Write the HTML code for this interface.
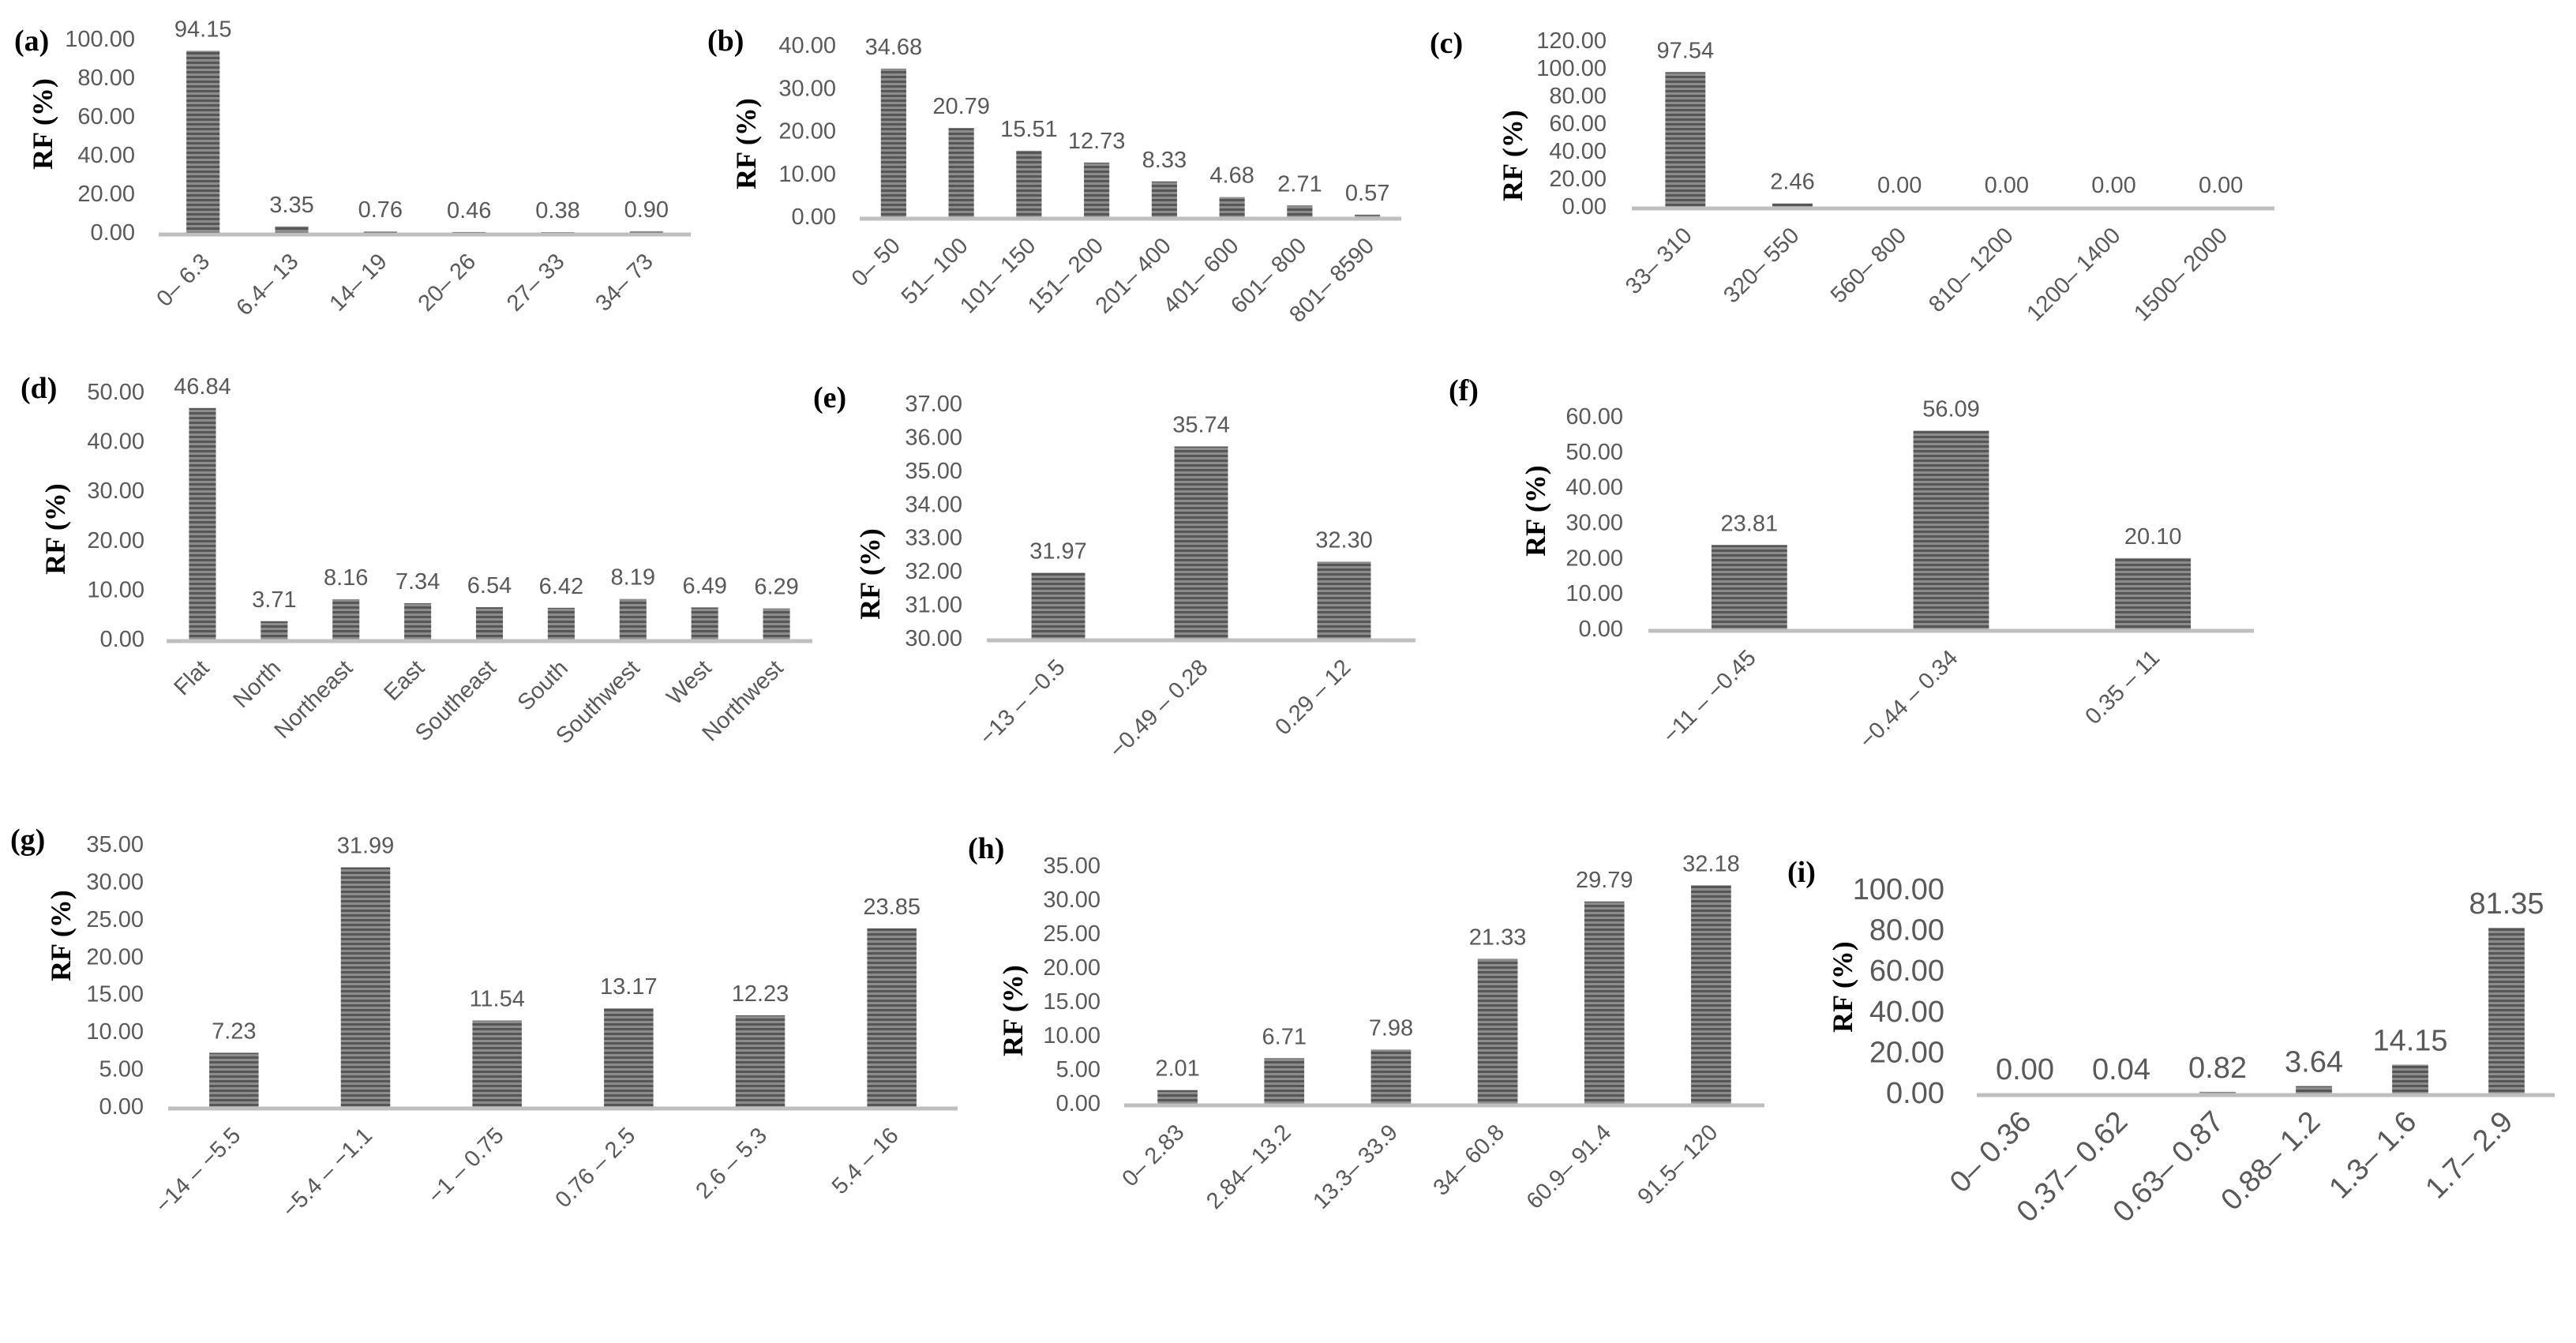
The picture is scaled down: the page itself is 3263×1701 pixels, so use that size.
<!DOCTYPE html>
<html><head><meta charset="utf-8"><style>
html,body{margin:0;padding:0;background:#fff;}
svg{display:block;}
.tk{font-family:"Liberation Sans",sans-serif;fill:#595959;}
.pl{font-family:"Liberation Serif",serif;font-weight:bold;fill:#000;}
</style></head><body>
<svg id="fig" width="3263" height="1701" viewBox="0 0 3263 1701" xmlns="http://www.w3.org/2000/svg">
<defs>
<pattern id="stripe" patternUnits="userSpaceOnUse" width="10" height="6">
<rect width="10" height="6" fill="#8c8c8c"/><rect width="10" height="3" fill="#565656"/>
</pattern>
</defs>
</svg>
<script>
// ---- data ----
const catsA=["0– 6.3","6.4– 13","14– 19","20– 26","27– 33","34– 73"];
const valsA=[94.15,3.35,0.76,0.46,0.38,0.90];
const ticksA=[0,20,40,60,80,100];
const catsB=["0– 50","51– 100","101– 150","151– 200","201– 400","401– 600","601– 800","801– 8590"];
const valsB=[34.68,20.79,15.51,12.73,8.33,4.68,2.71,0.57];
const ticksB=[0,10,20,30,40];
const catsC=["33– 310","320– 550","560– 800","810– 1200","1200– 1400","1500– 2000"];
const valsC=[97.54,2.46,0.00,0.00,0.00,0.00];
const ticksC=[0,20,40,60,80,100,120];
const catsD=["Flat","North","Northeast","East","Southeast","South","Southwest","West","Northwest"];
const valsD=[46.84,3.71,8.16,7.34,6.54,6.42,8.19,6.49,6.29];
const ticksD=[0,10,20,30,40,50];
const catsE=["−13 – −0.5","−0.49 – 0.28","0.29 – 12"];
const valsE=[31.97,35.74,32.30];
const ticksE=[30,31,32,33,34,35,36,37];
const catsF=["−11 – −0.45","−0.44 – 0.34","0.35 – 11"];
const valsF=[23.81,56.09,20.10];
const ticksF=[0,10,20,30,40,50,60];
const catsG=["−14 – −5.5","−5.4 – −1.1","−1 – 0.75","0.76 – 2.5","2.6 – 5.3","5.4 – 16"];
const valsG=[7.23,31.99,11.54,13.17,12.23,23.85];
const ticksG=[0,5,10,15,20,25,30,35];
const catsH=["0– 2.83","2.84– 13.2","13.3– 33.9","34– 60.8","60.9– 91.4","91.5– 120"];
const valsH=[2.01,6.71,7.98,21.33,29.79,32.18];
const ticksH=[0,5,10,15,20,25,30,35];
const catsI=["0– 0.36","0.37– 0.62","0.63– 0.87","0.88– 1.2","1.3– 1.6","1.7– 2.9"];
const valsI=[0.00,0.04,0.82,3.64,14.15,81.35];
const ticksI=[0,20,40,60,80,100];

// ---- layout ----
const NS="http://www.w3.org/2000/svg";
const svg=document.getElementById('fig');
function mk(tag,attrs,parent){const e=document.createElementNS(NS,tag);for(const k in attrs)e.setAttribute(k,attrs[k]);(parent||svg).appendChild(e);return e;}

const panels=[
 {id:'a',cats:catsA,vals:valsA,ticks:ticksA,x0:201,x1:875,yB:295,yT:50,tr:171,lx:18,ly:64,rx:54,ry:157,fs:29},
 {id:'b',cats:catsB,vals:valsB,ticks:ticksB,x0:1089,x1:1775,yB:275,yT:58,tr:1059,lx:896,ly:64,rx:945,ry:182,fs:29},
 {id:'c',cats:catsC,vals:valsC,ticks:ticksC,x0:2067,x1:2881,yB:262,yT:52,tr:2035,lx:1811,ly:67,rx:1916,ry:197,fs:29},
 {id:'d',cats:catsD,vals:valsD,ticks:ticksD,x0:211,x1:1029,yB:810,yT:497,tr:183,lx:26,ly:504,rx:70,ry:670,fs:29},
 {id:'e',cats:catsE,vals:valsE,ticks:ticksE,x0:1250,x1:1793,yB:809,yT:512,tr:1219,lx:1030,ly:516,rx:1102,ry:727,fs:29},
 {id:'f',cats:catsF,vals:valsF,ticks:ticksF,x0:2088,x1:2855,yB:797,yT:528,tr:2056,lx:1835,ly:507,rx:1945,ry:647,fs:29},
 {id:'g',cats:catsG,vals:valsG,ticks:ticksG,x0:213,x1:1213,yB:1402,yT:1070,tr:182,lx:13,ly:1076,rx:77,ry:1185,fs:29},
 {id:'h',cats:catsH,vals:valsH,ticks:ticksH,x0:1424,x1:2235,yB:1398,yT:1097,tr:1394,lx:1226,ly:1087,rx:1283,ry:1280,fs:29},
 {id:'i',cats:catsI,vals:valsI,ticks:ticksI,x0:2504,x1:3236,yB:1385,yT:1127,tr:2463,lx:2264,ly:1117,rx:2334,ry:1250,fs:38}
];

panels.forEach(p=>{
 const g=mk('g',{});
 
 
 const tmin=p.ticks[0], tmax=p.ticks[p.ticks.length-1];
 const yS=v=>p.yB-(v-tmin)/(tmax-tmin)*(p.yB-p.yT);
 const band=(p.x1-p.x0)/p.cats.length;
 const xS=i=>p.x0+band*(i+0.5);
 const bw=band*0.375;
 const pl=mk('text',{x:p.lx,y:p.ly,class:'pl','font-size':38},g);
 pl.textContent='('+p.id+')';
 
 
 const yt=mk('text',{x:p.rx,y:p.ry,class:'pl','font-size':36,'text-anchor':'middle','dominant-baseline':'central',transform:`rotate(-90 ${p.rx} ${p.ry})`},g);
 yt.textContent='RF (%)';
 
 
 p.ticks.forEach(t=>{
  const tl=mk('text',{x:p.tr,y:yS(t),class:'tk','font-size':p.fs,'text-anchor':'end','dominant-baseline':'central'},g);
  tl.textContent=t.toFixed(2);
  
  
 });
 p.vals.forEach((v,i)=>{
  const top=yS(v);
  const h=Math.max(0,p.yB-top);
  const r=mk('rect',{x:xS(i)-bw/2,y:top,width:bw,height:h,fill:'url(#stripe)'},g);
  
  
  const vl=mk('text',{x:xS(i),y:Math.min(top,p.yB)-18,class:'tk','font-size':p.fs,'text-anchor':'middle',fill:'#404040'},g);
  vl.textContent=v.toFixed(2);
  
  
  const cx=xS(i)+10, cy=p.yB+38;
  const cl=mk('text',{x:cx,y:cy,class:'tk','font-size':p.fs,'text-anchor':'end',transform:`rotate(-45 ${cx} ${cy})`},g);
  cl.textContent=p.cats[i];
  
  
 });
 const ax=mk('line',{x1:p.x0,x2:p.x1,y1:p.yB+2,y2:p.yB+2,stroke:'#bfbfbf','stroke-width':5},g);
 
 
});
</script>
</body></html>
